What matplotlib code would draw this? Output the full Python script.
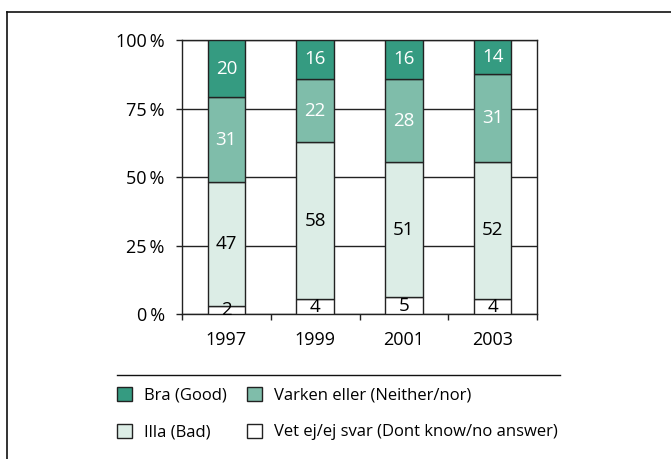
import matplotlib
matplotlib.use("Agg")
import matplotlib.pyplot as plt
from matplotlib.lines import Line2D
import numpy as np

plt.rcParams["font.family"] = ["Open Sans", "DejaVu Sans"]

years = ["1997", "1999", "2001", "2003"]
series = ["Bra (Good)", "Varken eller (Neither/nor)", "Illa (Bad)",
          "Vet ej/ej svar (Dont know/no answer)"]
# segment heights (%) as drawn, bottom to top
vet_ej = [2.9, 5.6, 6.2, 5.6]
illa = [45.4, 57.1, 49.3, 50.0]
varken = [30.8, 23.1, 30.3, 31.9]
bra = [20.9, 14.2, 14.2, 12.5]
# printed labels
vet_ej_lbl = [2, 4, 5, 4]
illa_lbl = [47, 58, 51, 52]
varken_lbl = [31, 22, 28, 31]
bra_lbl = [20, 16, 16, 14]

colors = {"bra": "#359b81", "varken": "#7fbdaa", "illa": "#dcede6", "vet": "#ffffff"}

W, H = 671, 459
fig = plt.figure(figsize=(W / 100, H / 100), dpi=100)
ax = fig.add_axes([182 / W, 1 - 314.3 / H, (537 - 182) / W, (314.3 - 40) / H])

x = np.arange(len(years))
bw = 0.42
stack = [("vet", vet_ej, vet_ej_lbl, "black"),
         ("illa", illa, illa_lbl, "black"),
         ("varken", varken, varken_lbl, "white"),
         ("bra", bra, bra_lbl, "white")]
bottom = np.zeros(len(years))
handles = {}
for key, vals, lbls, tc in stack:
    vals = np.array(vals)
    h = ax.bar(x, vals, bw, bottom=bottom, color=colors[key], edgecolor="#222222",
               linewidth=1.0, zorder=3)
    handles[key] = h
    for xi, b, v, l in zip(x, bottom, vals, lbls):
        ax.text(xi, b + v / 2, str(l), ha="center", va="center", color=tc,
                fontsize=13.5, zorder=4)
    bottom = bottom + vals

ax.set_xlim(-0.5, 3.5)
ax.set_ylim(0, 100)
ax.set_yticks([0, 25, 50, 75, 100])
ax.set_yticklabels(["0\u2009%", "25\u2009%", "50\u2009%", "75\u2009%", "100\u2009%"], fontsize=13)
ax.yaxis.grid(True, color="#222222", linewidth=1.0)
ax.set_axisbelow(True)
ax.tick_params(axis="y", length=4.5, width=1.0, pad=8, color="#222222")
ax.set_xticks(x)
ax.set_xticklabels(years, fontsize=13)
ax.set_xticks(np.arange(-0.5, 4.0, 1.0), minor=True)
ax.tick_params(axis="x", which="major", length=0, pad=12)
ax.tick_params(axis="x", which="minor", length=4.5, width=1.0, color="#222222")
for s in ax.spines.values():
    s.set_color("#222222")
    s.set_linewidth(1.0)

# outer frame (top and left) and legend separator
fig.add_artist(Line2D([7 / W, 1], [1 - 12 / H, 1 - 12 / H], color="#111111", lw=1.2))
fig.add_artist(Line2D([7 / W, 7 / W], [1 - 12 / H, 0], color="#111111", lw=1.2))
fig.add_artist(Line2D([117 / W, 560 / W], [1 - 375 / H, 1 - 375 / H], color="#111111", lw=1.0))

leg_handles = [handles["bra"], handles["illa"], handles["varken"], handles["vet"]]
leg_labels = [series[0], series[2], series[1], series[3]]
fig.legend(leg_handles, leg_labels, loc="upper left",
           bbox_to_anchor=(117 / W, 1 - 387 / H), ncol=2, frameon=False,
           fontsize=12, handlelength=0.9, handleheight=0.9, handletextpad=0.7,
           columnspacing=1.25, labelspacing=1.2, borderpad=0, borderaxespad=0)

fig.savefig("out.png", dpi=100)
